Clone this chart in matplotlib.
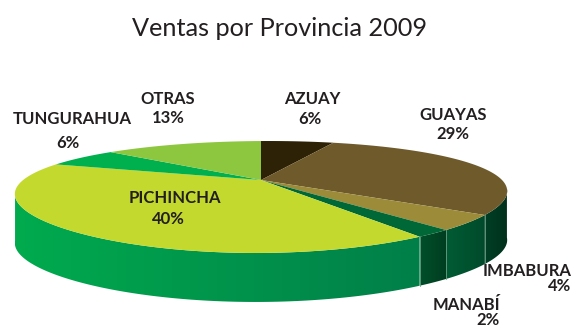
#!/usr/bin/env python3
"""Ventas por Provincia 2009, 3D pie drawn by hand on a pixel-sized axes."""

import matplotlib
matplotlib.use('Agg')
from matplotlib import pyplot as plt
from matplotlib.colors import LinearSegmentedColormap
from matplotlib.patches import Polygon
import numpy as np

# clockwise from 12 o'clock
provincias = ['AZUAY', 'GUAYAS', 'IMBABURA', 'MANABÍ', 'PICHINCHA', 'TUNGURAHUA', 'OTRAS']
ventas = [6, 29, 4, 2, 40, 6, 13]
etiquetas = ['6%', '29%', '4%', '2%', '40%', '6%', '13%']

colores = ['#2E2206', '#6F5A2B', '#9C8C3A', '#006837', '#C4D92E', '#00B04F', '#8DC63F']

# side wall colours, (left end, right end) of each slice
pared = {
    'GUAYAS': ('#003F25', '#00301C'),
    'IMBABURA': ('#005C35', '#004A2B'),
    'MANABÍ': ('#004F2A', '#003D20'),
    'PICHINCHA': ('#00AB4E', '#007F49'),
}

# where the text goes, in pixels: label (x, y, ha), value (x, y, ha)
pos_texto = {
    'AZUAY': ((312, 99, 'center'), (310, 119, 'center')),
    'GUAYAS': ((453, 115, 'center'), (453, 134, 'center')),
    'IMBABURA': ((571, 271, 'right'), (571, 286, 'right')),
    'MANABÍ': ((466, 305, 'center'), (500, 320, 'right')),
    'PICHINCHA': ((175, 198, 'center'), (168, 219, 'center')),
    'TUNGURAHUA': ((72, 119, 'center'), (68, 143, 'center')),
    'OTRAS': ((168, 99, 'center'), (168, 118, 'center')),
}

CX, CY = 261, 180
K = 0.3036
A, B = 239.5, 50.8
EGG = 0.0014
TILT = -0.006
DEPTH = 49
TXT = '#231F20'


def proyecta(theta):
    # perspective view of the unit circle, apex lands on (CX, CY)
    u, v = np.cos(theta), np.sin(theta)
    d = 1 + K * v
    y = -B * v / d
    # the reference rim is a bit narrower towards the front
    x = A * u / d * (1 - EGG * y)
    return CX + x, CY + y + TILT * x


def main():
    fig = plt.figure(figsize=(5.8, 3.28), dpi=100, facecolor='white')
    ax = fig.add_axes([0, 0, 1, 1])

    cortes = np.cumsum([0] + ventas) / sum(ventas)
    angulos = np.pi / 2 - 2 * np.pi * cortes

    # side wall first, only the part that faces us
    for i, prov in enumerate(provincias):
        if prov not in pared:
            continue
        th = np.linspace(angulos[i], angulos[i + 1], 200)
        th = th[np.sin(th) < -K * 0.6]
        xs, ys = proyecta(th)
        cmap = LinearSegmentedColormap.from_list(prov, pared[prov])
        verts = np.c_[np.r_[xs, xs[::-1]], np.r_[ys, ys[::-1] + DEPTH]]
        img = ax.imshow(np.linspace(0, 1, 256).reshape(1, -1), cmap=cmap, aspect='auto',
                        extent=(xs.min(), xs.max(), ys.max() + DEPTH, ys.min()), zorder=2)
        clip = Polygon(verts, transform=ax.transData, fc='none', ec='none')
        ax.add_patch(clip)
        img.set_clip_path(clip)
        # thin lines between wall pieces
        if prov != 'PICHINCHA':
            ax.plot([xs[-1], xs[-1]], [ys[-1], ys[-1] + DEPTH], color='#6F9F85', lw=0.6, zorder=3)

    # top face
    for i, prov in enumerate(provincias):
        th = np.linspace(angulos[i], angulos[i + 1], 120)
        xs, ys = proyecta(th)
        ax.fill(np.r_[CX, xs], np.r_[CY, ys], color=colores[i], lw=0, zorder=4)

    ax.set_xlim(0, 580)
    ax.set_ylim(328, 0)
    ax.axis('off')

    for prov, val in zip(provincias, etiquetas):
        (lx, ly, lha), (vx, vy, vha) = pos_texto[prov]
        ax.text(lx, ly, prov, ha=lha, va='center', fontsize=12, fontweight='bold',
                family='Lato', color=TXT, zorder=5)
        ax.text(vx, vy, val, ha=vha, va='center', fontsize=12, fontweight='bold',
                family='Lato', color=TXT, zorder=5)

    ax.text(280, 28, 'Ventas por Provincia 2009', ha='center', va='center',
            fontsize=18.2, family='Lato', color=TXT)

    fig.savefig('out.png', dpi=100)


if __name__ == '__main__':
    main()
